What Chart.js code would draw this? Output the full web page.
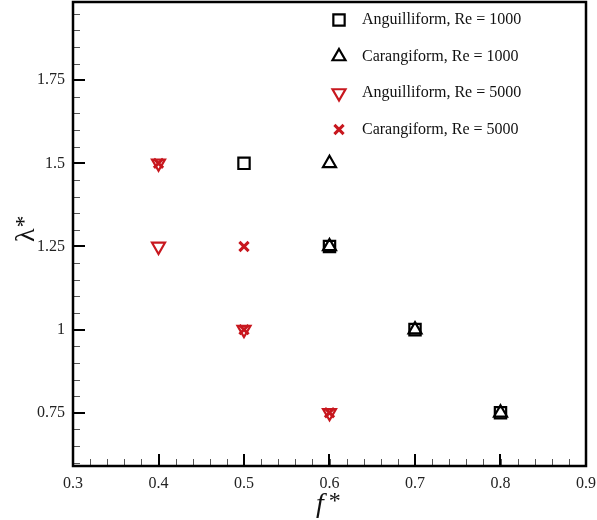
<!DOCTYPE html>
<html>
<head>
<meta charset="utf-8">
<script src="https://cdn.jsdelivr.net/npm/chart.js@4/dist/chart.umd.min.js"></script>
<style>
html,body{margin:0;padding:0;background:#fff;}
#wrap{width:597px;height:520px;position:relative;}
</style>
</head>
<body>
<div id="wrap"><canvas id="c" width="597" height="520"></canvas></div>
<script>
// ---- data ----
const seriesLabels = ["Anguilliform, Re = 1000", "Carangiform, Re = 1000", "Anguilliform, Re = 5000", "Carangiform, Re = 5000"];
const anguRe1000_f = [0.5, 0.6, 0.7, 0.8];
const anguRe1000_l = [1.5, 1.25, 1.0, 0.75];
const caraRe1000_f = [0.6, 0.6, 0.7, 0.8];
const caraRe1000_l = [1.5, 1.25, 1.0, 0.75];
const anguRe5000_f = [0.4, 0.4, 0.5, 0.6];
const anguRe5000_l = [1.5, 1.25, 1.0, 0.75];
const caraRe5000_f = [0.4, 0.5, 0.5, 0.6];
const caraRe5000_l = [1.5, 1.25, 1.0, 0.75];
const xTicks = [0.3, 0.4, 0.5, 0.6, 0.7, 0.8, 0.9];
const yTicks = [0.75, 1, 1.25, 1.5, 1.75];
const xMinorStep = 0.02;
const yMinorStep = 0.05;

const RED = '#c8171e';
const BLACK = '#000000';
const SERIF = '"Liberation Serif", "DejaVu Serif", serif';

function pts(xs, ys){ return xs.map((x,i)=>({x:x, y:ys[i]})); }

const styles = [
  {pointStyle:'rect', color:BLACK, radius:8, width:2.2, rotation:0},
  {pointStyle:'triangle', color:BLACK, radius:7.5, width:2.2, rotation:0},
  {pointStyle:'triangle', color:RED, radius:7.5, width:2.2, rotation:180},
  {pointStyle:'crossRot', color:RED, radius:6.5, width:3, rotation:0}
];
const dataSets = [
  pts(anguRe1000_f, anguRe1000_l),
  pts(caraRe1000_f, caraRe1000_l),
  pts(anguRe5000_f, anguRe5000_l),
  pts(caraRe5000_f, caraRe5000_l)
];

const framePlugin = {
  id: 'frame',
  afterDatasetsDraw(chart){
    const {ctx, chartArea:a, scales} = chart;
    const xs = scales.x, ys = scales.y;
    ctx.save();
    // minor ticks
    ctx.lineWidth = 1;
    ctx.strokeStyle = '#555';
    ctx.beginPath();
    for (let v = xs.min; v <= xs.max + 1e-9; v += xMinorStep) {
      const px = Math.round(xs.getPixelForValue(v)) + 0.5;
      ctx.moveTo(px, a.bottom); ctx.lineTo(px, a.bottom - 7);
    }
    const y0 = Math.ceil(ys.min / yMinorStep - 1e-9) * yMinorStep;
    for (let v = y0; v <= ys.max + 1e-9; v += yMinorStep) {
      const py = Math.round(ys.getPixelForValue(v)) + 0.5;
      ctx.moveTo(a.left, py); ctx.lineTo(a.left + 7, py);
    }
    ctx.stroke();
    // major ticks
    ctx.strokeStyle = '#000';
    ctx.lineWidth = 2;
    ctx.beginPath();
    xTicks.forEach(v => {
      const px = Math.round(xs.getPixelForValue(v));
      ctx.moveTo(px, a.bottom); ctx.lineTo(px, a.bottom - 12);
    });
    yTicks.forEach(v => {
      const py = Math.round(ys.getPixelForValue(v));
      ctx.moveTo(a.left, py); ctx.lineTo(a.left + 12, py);
    });
    ctx.stroke();
    // frame
    ctx.lineWidth = 2.5;
    ctx.strokeRect(a.left, a.top, a.right - a.left, a.bottom - a.top);
    // legend
    const lx = 339, ly0 = 20, dy = 36.5;
    ctx.font = '16px ' + SERIF;
    ctx.textBaseline = 'middle';
    ctx.textAlign = 'left';
    chart.data.datasets.forEach((ds, i) => {
      const s = styles[i];
      const y = ly0 + i * dy;
      ctx.save();
      ctx.strokeStyle = s.color;
      ctx.fillStyle = 'rgba(0,0,0,0)';
      ctx.lineWidth = s.width;
      Chart.helpers.drawPoint(ctx, {pointStyle: s.pointStyle, radius: s.radius, rotation: s.rotation, borderWidth: s.width}, lx, y);
      ctx.restore();
      ctx.fillStyle = '#111';
      ctx.fillText(ds.label, 362, y);
    });
    // axis titles
    ctx.fillStyle = '#111';
    ctx.textAlign = 'left';
    ctx.textBaseline = 'alphabetic';
    ctx.font = 'italic 28px ' + SERIF;
    const fw = ctx.measureText('f').width;
    const tx = 316, tyy = 512;
    ctx.fillText('f', tx, tyy);
    ctx.font = '24px ' + SERIF;
    ctx.fillText('*', tx + fw + 5, tyy - 4);
    ctx.save();
    ctx.translate(34, 242);
    ctx.rotate(-Math.PI / 2);
    ctx.font = '28px ' + SERIF;
    ctx.fillText('\u03BB', 0, 0);
    const lw = ctx.measureText('\u03BB').width;
    ctx.font = '24px ' + SERIF;
    ctx.fillText('*', lw + 1, -3);
    ctx.restore();
    ctx.restore();
  }
};

new Chart(document.getElementById('c'), {
  type: 'scatter',
  data: {
    datasets: dataSets.map((d, i) => ({
      label: seriesLabels[i],
      data: d,
      pointStyle: styles[i].pointStyle,
      pointRadius: styles[i].radius,
      pointHoverRadius: styles[i].radius,
      pointRotation: styles[i].rotation,
      borderColor: styles[i].color,
      backgroundColor: 'rgba(0,0,0,0)',
      pointBorderWidth: styles[i].width,
      borderWidth: styles[i].width,
      showLine: false
    }))
  },
  options: {
    responsive: false,
    animation: false,
    devicePixelRatio: 1,
    layout: {autoPadding: false, padding: {top: 2, right: 11, left: 0, bottom: 0}},
    plugins: {legend: {display: false}, tooltip: {enabled: false}},
    scales: {
      x: {
        type: 'linear', min: 0.3, max: 0.9,
        afterBuildTicks: s => { s.ticks = xTicks.map(v => ({value: v})); },
        afterFit: s => { s.height = 54; s.paddingLeft = 0; s.paddingRight = 0; },
        grid: {display: false, drawTicks: false},
        border: {display: false},
        ticks: {
          padding: 8, color: '#222', font: {family: SERIF, size: 16},
          maxRotation: 0, autoSkip: false,
          callback: v => String(Math.round(v * 10) / 10)
        }
      },
      y: {
        type: 'linear', min: 0.59, max: 1.985,
        afterBuildTicks: s => { s.ticks = yTicks.map(v => ({value: v})); },
        afterFit: s => { s.width = 73; s.paddingTop = 0; s.paddingBottom = 0; },
        grid: {display: false, drawTicks: false},
        border: {display: false},
        ticks: {
          padding: 8, color: '#222', font: {family: SERIF, size: 16},
          autoSkip: false,
          callback: v => String(Math.round(v * 100) / 100)
        }
      }
    }
  },
  plugins: [framePlugin]
});
</script>
</body>
</html>
